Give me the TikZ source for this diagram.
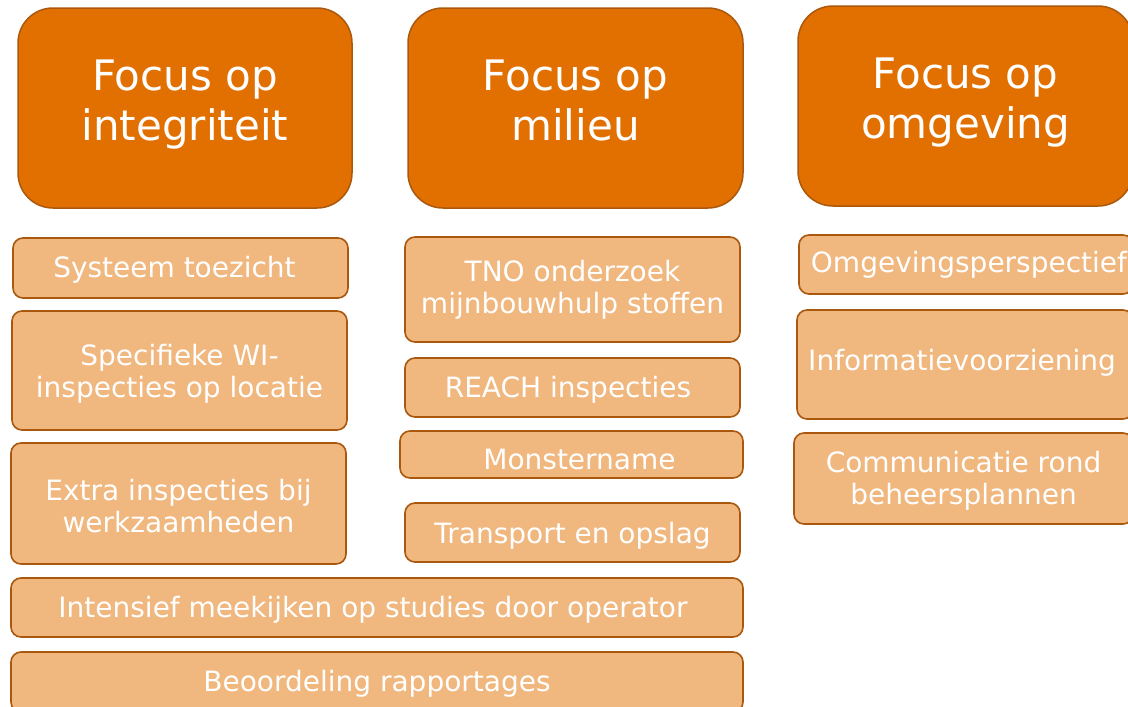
\documentclass[tikz,border=0pt]{standalone}
\usepackage{fontspec}
\setmainfont{DejaVu Sans}
\definecolor{headfill}{RGB}{226,112,0}
\definecolor{itemfill}{RGB}{240,183,126}
\definecolor{edgebrown}{RGB}{170,88,14}
\newcommand{\shiftline}[2]{\raisebox{#1}[\height][\depth]{#2}}
\tikzset{
  headbox/.style={draw=edgebrown, line width=1.5pt, fill=headfill, rounded corners=35pt,
    inner sep=0pt, text=white, align=center, font=\fontsize{42}{50}\selectfont},
  itembox/.style={draw=edgebrown, line width=1.6pt, fill=itemfill, rounded corners=10pt,
    inner sep=0pt, text=white, align=center, font=\fontsize{28}{32}\selectfont}
}
\begin{document}
\begin{tikzpicture}[x=1pt,y=-1pt]
\useasboundingbox (0,0) rectangle (1128,707);
\clip (0,0) rectangle (1128,707);
% headers
\node[headbox, minimum width=334pt, minimum height=200pt] (h1) at (185,108) {\shiftline{3pt}{Focus op}\\\shiftline{3pt}{integriteit}};
\node[headbox, minimum width=335pt, minimum height=200pt] (h2) at (575.5,108) {\shiftline{3pt}{Focus op}\\\shiftline{3pt}{milieu\vphantom{g}}};
\node[headbox, minimum width=335pt, minimum height=200pt] (h3) at (965.5,106) {\shiftline{3pt}{Focus op}\\\shiftline{3pt}{omgeving}};
% column 1
\node[itembox, minimum width=335pt, minimum height=60pt] (a1) at (180.5,268) {\shiftline{-2pt}{Systeem toezicht}\hspace*{12pt}};
\node[itembox, minimum width=335pt, minimum height=119pt] (a2) at (179.5,370.5) {\shiftline{-3pt}{Specifieke WI-}\\\shiftline{-3pt}{inspecties op locatie}};
\node[itembox, minimum width=335pt, minimum height=121pt] (a3) at (178.5,503.5) {\shiftline{-3pt}{Extra inspecties bij}\\\shiftline{-3pt}{werkzaamheden}};
% wide rows
\node[itembox, minimum width=732pt, minimum height=59pt] (w1) at (377,607.5) {\shiftline{-2pt}{Intensief meekijken op studies door operator}\hspace*{8pt}};
\node[itembox, minimum width=732pt, minimum height=60pt] (w2) at (377,682) {\shiftline{-2pt}{Beoordeling rapportages}};
% column 2
\node[itembox, minimum width=335pt, minimum height=105pt] (b1) at (572.5,289.5) {TNO onderzoek\\mijnbouwhulp stoffen};
\node[itembox, minimum width=335pt, minimum height=59pt] (b2) at (572.5,387.5) {\shiftline{-2pt}{REACH inspecties}\hspace*{9pt}};
\node[itembox, minimum width=343pt, minimum height=47pt] (b3) at (571.5,454.5) {\hspace*{16pt}\shiftline{-5pt}{Monstername}};
\node[itembox, minimum width=335pt, minimum height=59pt] (b4) at (572.5,532.5) {\shiftline{-3pt}{Transport en opslag}};
% column 3
\node[itembox, minimum width=334pt, minimum height=59pt] (c1) at (966,264.5) {\hspace*{6pt}Omgevingsperspectief};
\node[itembox, minimum width=336pt, minimum height=109pt] (c2) at (965,364.5) {\shiftline{2pt}{Informatievoorziening}\hspace*{6pt}};
\node[itembox, minimum width=339pt, minimum height=91pt] (c3) at (963.5,478.5) {\shiftline{-2pt}{Communicatie rond}\\\shiftline{-2pt}{beheersplannen}};
\end{tikzpicture}
\end{document}
